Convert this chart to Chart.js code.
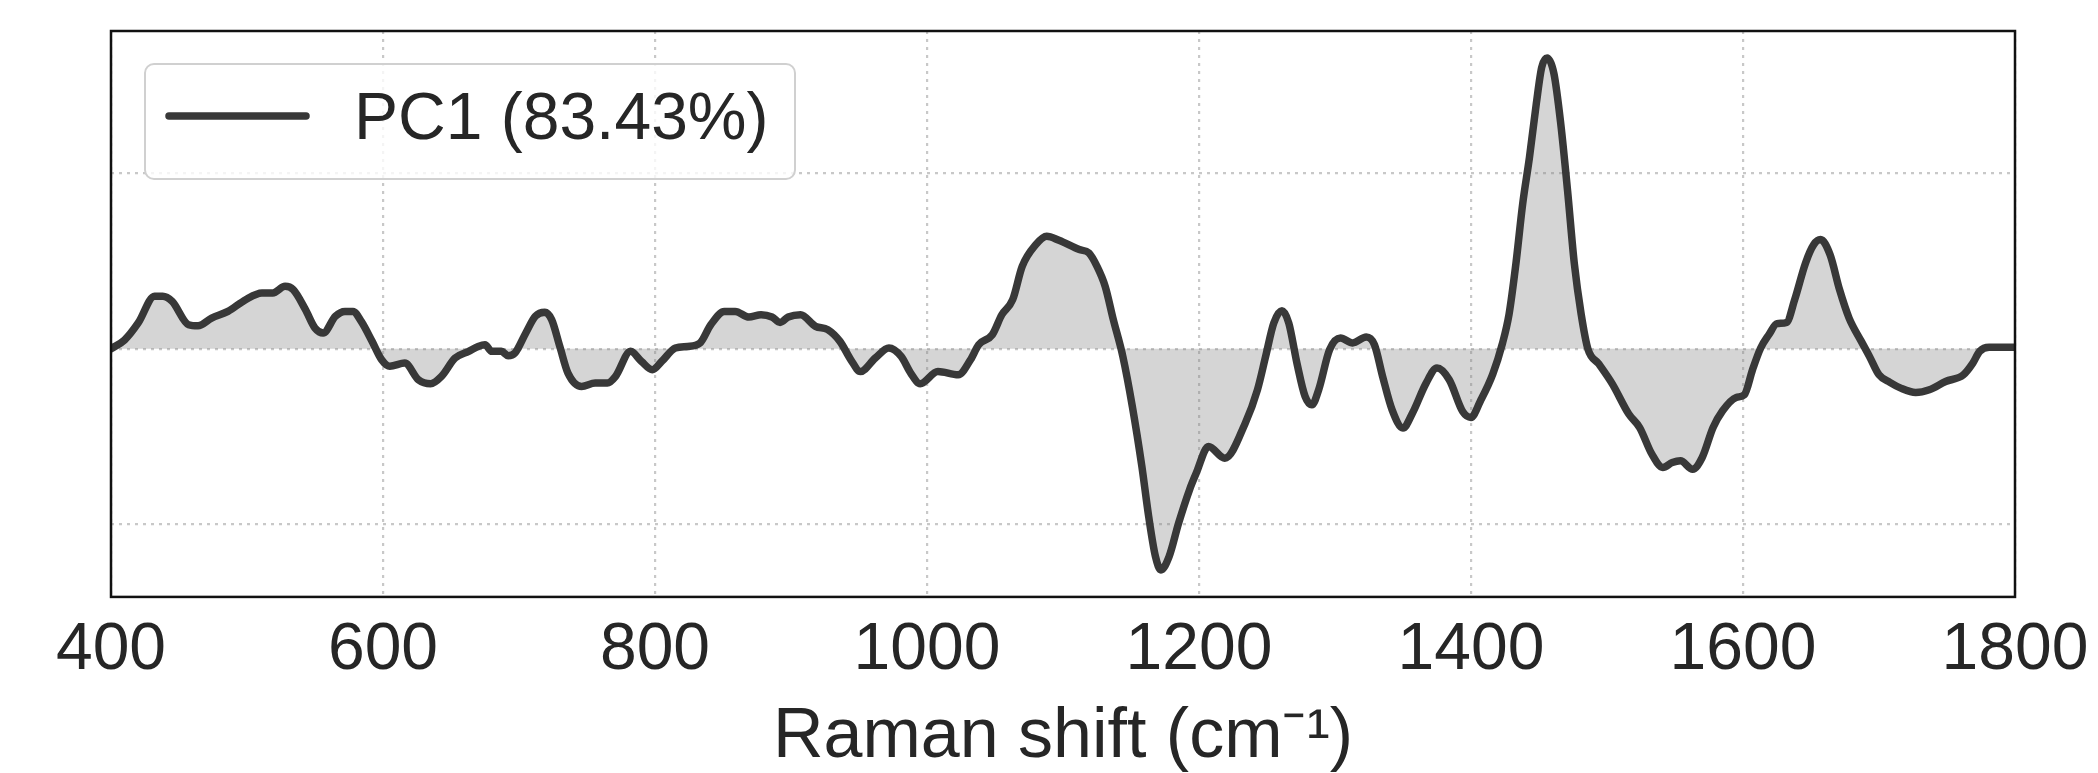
<!DOCTYPE html>
<html>
<head>
<meta charset="utf-8">
<script src="https://cdn.jsdelivr.net/npm/chart.js@4"></script>
<style>
  html, body { margin: 0; padding: 0; background: #fff; }
  #wrap { width: 2098px; height: 773px; position: relative; }
</style>
</head>
<body>
<div id="wrap"><canvas id="chart"></canvas></div>
<script>
// Raman shift (cm-1) and PC1 loading
const shift = [
  400, 410, 420, 432, 438, 445, 457, 464, 474, 486, 499, 511, 519, 528, 534, 543, 550, 556, 565, 572,
  578, 584, 592, 599, 605, 616, 626, 635, 643, 653, 663, 670, 675, 680, 687, 692, 697, 705, 712, 719,
  724, 730, 736, 746, 756, 765, 771, 782, 790, 798, 805, 815, 824, 833, 841, 851, 859, 869, 878, 886,
  892, 898, 907, 918, 927, 936, 944, 951, 962, 972, 981, 988, 995, 1008, 1023, 1032, 1038, 1048, 1055, 1063,
  1070, 1080, 1088, 1097, 1112, 1119, 1125, 1131, 1137, 1144, 1151, 1158, 1163, 1168, 1172, 1178, 1185, 1193, 1198, 1207,
  1219, 1234, 1243, 1249, 1255, 1261, 1266, 1272, 1278, 1283, 1288, 1296, 1304, 1313, 1323, 1329, 1335, 1342, 1350, 1357,
  1367, 1375, 1384, 1394, 1400, 1407, 1416, 1423, 1428, 1433, 1438, 1443, 1448, 1452, 1456, 1461, 1466, 1471, 1476, 1481,
  1486, 1494, 1504, 1516, 1524, 1533, 1541, 1548, 1554, 1563, 1570, 1578, 1585, 1595, 1601, 1607, 1613, 1619, 1625, 1632,
  1638, 1646, 1652, 1657, 1664, 1671, 1678, 1687, 1693, 1700, 1708, 1716, 1727, 1737, 1749, 1762, 1769, 1774, 1781, 1800
];
const pc1 = [
  0.00, 0.05, 0.147, 0.30, 0.30, 0.27, 0.137, 0.131, 0.175, 0.213, 0.28, 0.318, 0.318, 0.356, 0.337, 0.223, 0.118, 0.09, 0.185, 0.213,
  0.213, 0.156, 0.042, -0.063, -0.10, -0.082, -0.177, -0.20, -0.158, -0.053, -0.015, 0.013, 0.023, -0.015, -0.015, -0.04, -0.025, 0.09, 0.185, 0.208,
  0.166, 0.013, -0.139, -0.215, -0.196, -0.196, -0.158, -0.015, -0.072, -0.12, -0.072, 0.004, 0.013, 0.032, 0.137, 0.213, 0.213, 0.181, 0.194, 0.181,
  0.15, 0.181, 0.194, 0.128, 0.109, 0.042, -0.063, -0.13, -0.053, 0.004, -0.044, -0.139, -0.20, -0.13, -0.149, -0.063, 0.023, 0.08, 0.194, 0.28,
  0.47, 0.594, 0.642, 0.619, 0.566, 0.547, 0.47, 0.356, 0.166, -0.044, -0.33, -0.672, -0.958, -1.187, -1.263, -1.187, -0.996, -0.806, -0.71, -0.558,
  -0.625, -0.425, -0.234, -0.044, 0.147, 0.217, 0.147, -0.082, -0.272, -0.32, -0.234, -0.006, 0.061, 0.033, 0.067, 0.023, -0.158, -0.349, -0.453, -0.367,
  -0.196, -0.11, -0.177, -0.36, -0.392, -0.297, -0.145, 0.027, 0.198, 0.484, 0.827, 1.093, 1.398, 1.607, 1.66, 1.57, 1.284, 0.903, 0.484, 0.198,
  -0.002, -0.087, -0.202, -0.373, -0.45, -0.602, -0.678, -0.65, -0.64, -0.688, -0.621, -0.45, -0.354, -0.278, -0.263, -0.12, 0.004, 0.08, 0.143, 0.15,
  0.28, 0.49, 0.594, 0.623, 0.537, 0.337, 0.175, 0.042, -0.044, -0.149, -0.192, -0.225, -0.25, -0.234, -0.187, -0.149, -0.082, -0.015, 0.008, 0.008
];
const xTicks = [400, 600, 800, 1000, 1200, 1400, 1600, 1800];
const yGrid = [-1, 0, 1];
const seriesLabel = "PC1 (83.43%)";
const xTitle = "Raman shift (cm\u207B\u00B9)";

const FONT = "'Liberation Sans', Arial, sans-serif";
const TEXT = "#262626";

// black spines around the plot
const frame = {
  id: "frame",
  afterDatasetsDraw(chart) {
    const { ctx, chartArea: a } = chart;
    ctx.save();
    ctx.strokeStyle = "#111";
    ctx.lineWidth = 2.5;
    ctx.strokeRect(a.left, a.top, a.right - a.left, a.bottom - a.top);
    ctx.restore();
  }
};

// matplotlib-like legend box in the upper left
const boxLegend = {
  id: "boxLegend",
  afterDraw(chart) {
    const { ctx, chartArea: a } = chart;
    const ds = chart.data.datasets[0];
    const x = a.left + 34, y = a.top + 33, w = 650, h = 115, r = 9;
    ctx.save();
    ctx.beginPath();
    ctx.roundRect(x, y, w, h, r);
    ctx.fillStyle = "rgba(255,255,255,0.8)";
    ctx.fill();
    ctx.lineWidth = 2;
    ctx.strokeStyle = "#d0d0d0";
    ctx.stroke();

    ctx.beginPath();
    ctx.moveTo(x + 24, y + 52);
    ctx.lineTo(x + 161, y + 52);
    ctx.lineWidth = 7.5;
    ctx.lineCap = "round";
    ctx.strokeStyle = ds.borderColor;
    ctx.stroke();

    ctx.fillStyle = TEXT;
    ctx.font = "66px " + FONT;
    ctx.textBaseline = "alphabetic";
    ctx.fillText(ds.label, x + 209, y + 75);
    ctx.restore();
  }
};

new Chart(document.getElementById("chart"), {
  type: "line",
  data: {
    datasets: [{
      label: seriesLabel,
      data: shift.map((s, i) => ({ x: s, y: pc1[i] })),
      borderColor: "#383838",
      borderWidth: 7.5,
      borderJoinStyle: "round",
      borderCapStyle: "round",
      backgroundColor: "rgba(128,128,128,0.33)",
      fill: "origin",
      pointRadius: 0,
      cubicInterpolationMode: "monotone"
    }]
  },
  options: {
    responsive: true,
    maintainAspectRatio: false,
    animation: false,
    layout: { padding: { left: 111, right: 83, top: 31, bottom: 0 } },
    plugins: {
      legend: { display: false },
      tooltip: { enabled: false }
    },
    scales: {
      x: {
        type: "linear",
        min: 400,
        max: 1800,
        afterBuildTicks: axis => { axis.ticks = xTicks.map(v => ({ value: v })); },
        border: { display: false, dash: [3, 5] },
        grid: { color: "#c8c8c8", lineWidth: 2.2, drawTicks: false },
        ticks: {
          padding: 8,
          color: TEXT,
          font: { family: FONT, size: 66, lineHeight: 1.38 },
          maxRotation: 0,
          autoSkip: false,
          callback: v => String(v)
        },
        title: {
          display: true,
          text: xTitle,
          color: TEXT,
          font: { family: FONT, size: 70, lineHeight: 68 / 70 },
          padding: { top: 0, bottom: 1 }
        }
      },
      y: {
        min: -1.417,
        max: 1.814,
        afterBuildTicks: axis => { axis.ticks = yGrid.map(v => ({ value: v })); },
        border: { display: false, dash: [3, 5] },
        grid: { color: "#c8c8c8", lineWidth: 2.2, drawTicks: false },
        ticks: { display: false }
      }
    }
  },
  plugins: [frame, boxLegend]
});
</script>
</body>
</html>
